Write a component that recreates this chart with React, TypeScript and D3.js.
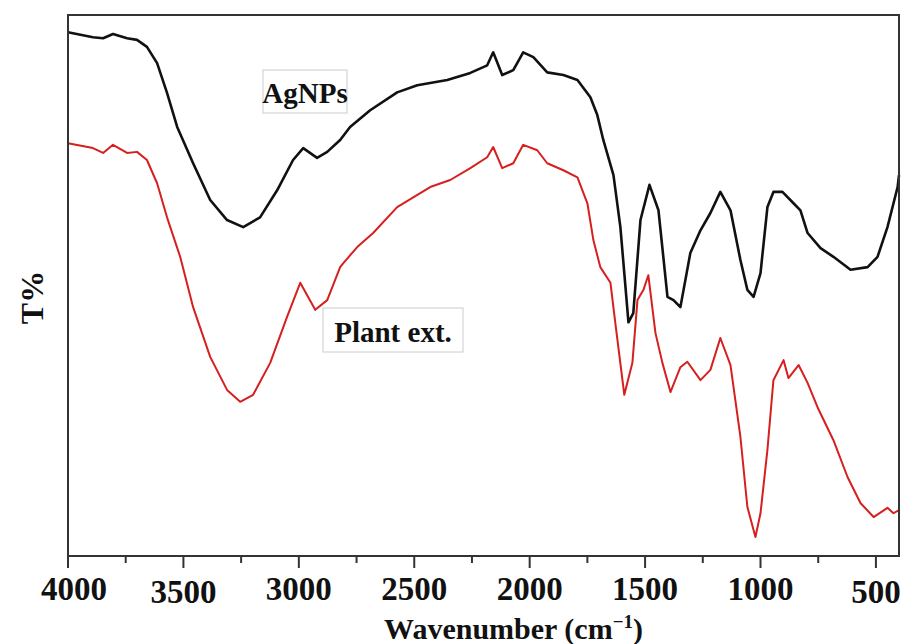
import { useEffect, useRef } from 'react'
import * as d3 from 'd3'

// FTIR spectra
const agWave = [4000, 3892, 3848, 3805, 3744, 3701, 3658, 3614, 3571, 3527, 3458, 3384, 3311, 3241, 3168, 3094, 3025, 2981, 2921, 2877, 2821, 2778, 2691, 2574, 2487, 2357, 2257, 2184, 2158, 2119, 2071, 2028, 1984, 1924, 1854, 1793, 1737, 1707, 1681, 1637, 1607, 1572, 1551, 1520, 1481, 1442, 1403, 1377, 1347, 1304, 1260, 1217, 1174, 1130, 1087, 1057, 1030, 1000, 970, 944, 905, 857, 827, 796, 740, 684, 610, 536, 493, 450, 406, 400]
const agT = [96.8, 95.9, 95.7, 96.5, 95.7, 95.4, 94.1, 91.1, 85.6, 79.3, 72.6, 65.8, 62.1, 60.8, 62.6, 67.6, 73.2, 75.4, 73.6, 74.7, 76.9, 79.3, 82.4, 85.7, 87.0, 88.0, 89.3, 90.7, 93.1, 88.9, 89.8, 93.1, 92.2, 89.4, 88.9, 88.0, 84.8, 81.5, 76.9, 70.4, 60.8, 43.2, 44.9, 62.1, 68.6, 63.9, 47.9, 47.3, 46.0, 56.0, 60.2, 63.4, 67.3, 63.9, 54.7, 49.2, 47.9, 52.3, 64.5, 67.3, 67.3, 65.2, 63.9, 59.7, 56.9, 55.3, 52.9, 53.4, 55.3, 60.8, 68.2, 70.4]

const plantWave = [4000, 3892, 3848, 3805, 3744, 3701, 3658, 3614, 3571, 3514, 3458, 3384, 3311, 3254, 3198, 3124, 3051, 2994, 2929, 2877, 2821, 2808, 2747, 2678, 2574, 2431, 2344, 2257, 2184, 2158, 2119, 2071, 2028, 1967, 1924, 1854, 1793, 1750, 1724, 1694, 1650, 1629, 1590, 1555, 1533, 1507, 1486, 1455, 1425, 1390, 1347, 1317, 1260, 1217, 1174, 1130, 1087, 1057, 1022, 1000, 970, 944, 900, 879, 835, 796, 753, 684, 623, 567, 510, 450, 424, 400]
const plantT = [76.3, 75.4, 74.5, 76.0, 74.5, 74.7, 73.2, 68.9, 62.6, 55.3, 46.0, 36.8, 30.7, 28.5, 29.8, 35.7, 44.2, 50.5, 45.5, 47.3, 53.4, 54.1, 57.1, 59.7, 64.5, 68.2, 69.5, 71.7, 73.7, 75.6, 71.7, 72.6, 76.0, 75.0, 72.6, 71.3, 70.0, 65.2, 58.4, 53.4, 50.5, 43.1, 29.8, 35.7, 47.3, 49.2, 51.9, 41.2, 35.7, 30.3, 34.9, 35.9, 32.5, 34.4, 40.3, 35.3, 22.0, 9.1, 3.5, 7.9, 19.6, 32.5, 36.2, 32.9, 35.3, 32.0, 27.5, 21.4, 14.6, 9.8, 7.2, 8.9, 7.9, 8.5]

const majorTicks = [4000, 3500, 3000, 2500, 2000, 1500, 1000, 500]
const minorTicks = [3750, 3250, 2750, 2250, 1750, 1250, 750]
const tickLabels = ['4000', '3500', '3000', '2500', '2000', '1500', '1000', '500']

const width = 904
const height = 644
const margin = { left: 68, right: 5, top: 15, bottom: 88 }
const font = '"Liberation Serif", "Times New Roman", serif'

export default function App() {
  const svgRef = useRef<SVGSVGElement>(null)

  useEffect(() => {
    const svg = d3.select(svgRef.current)
    svg.selectAll('*').remove()

    const x = d3.scaleLinear().domain([4000, 400]).range([margin.left, width - margin.right])
    const y = d3.scaleLinear().domain([0, 100]).range([height - margin.bottom, margin.top])
    const x0 = x.range()[0], x1 = x.range()[1]
    const y0 = y.range()[0], y1 = y.range()[1]

    svg.append('rect').attr('width', width).attr('height', height).attr('fill', '#fff')

    const line = d3.line<[number, number]>().x(d => x(d[0])).y(d => y(d[1]))

    svg.append('path')
      .datum(plantWave.map((w, i) => [w, plantT[i]] as [number, number]))
      .attr('d', line)
      .attr('fill', 'none')
      .attr('stroke', '#d61f1f')
      .attr('stroke-width', 2)
      .attr('stroke-linejoin', 'round')

    svg.append('path')
      .datum(agWave.map((w, i) => [w, agT[i]] as [number, number]))
      .attr('d', line)
      .attr('fill', 'none')
      .attr('stroke', '#111')
      .attr('stroke-width', 2.6)
      .attr('stroke-linejoin', 'round')

    // frame
    svg.append('rect')
      .attr('x', x0).attr('y', y1)
      .attr('width', x1 - x0).attr('height', y0 - y1)
      .attr('fill', 'none').attr('stroke', '#333').attr('stroke-width', 2)

    const axis = svg.append('g')
    axis.selectAll('line.major').data(majorTicks).join('line')
      .attr('x1', d => x(d)).attr('x2', d => x(d))
      .attr('y1', y0).attr('y2', y0 + 12)
      .attr('stroke', '#333').attr('stroke-width', 2)
    axis.selectAll('line.minor').data(minorTicks).join('line')
      .attr('x1', d => x(d)).attr('x2', d => x(d))
      .attr('y1', y0).attr('y2', y0 + 7)
      .attr('stroke', '#333').attr('stroke-width', 2)
    axis.selectAll('text').data(majorTicks).join('text')
      .attr('x', d => x(d) + (d === 4000 ? 6 : 0))
      .attr('y', d => y0 + (d === 3500 || d === 500 ? 47 : 44))
      .attr('text-anchor', 'middle')
      .attr('font-family', font).attr('font-weight', 'bold').attr('font-size', 33)
      .attr('fill', '#111')
      .text((d, i) => tickLabels[i])

    const title = svg.append('text')
      .attr('x', (x0 + x1) / 2 + 30).attr('y', height - 5)
      .attr('text-anchor', 'middle')
      .attr('font-family', font).attr('font-weight', 'bold').attr('font-size', 30)
      .attr('fill', '#111')
    title.append('tspan').text('Wavenumber (cm')
    title.append('tspan').attr('font-size', 19).attr('dy', -11).text('−1')
    title.append('tspan').attr('dy', 11).text(')')

    svg.append('text')
      .attr('transform', `translate(43, ${(y0 + y1) / 2 + 12}) rotate(-90)`)
      .attr('text-anchor', 'middle')
      .attr('font-family', font).attr('font-weight', 'bold').attr('font-size', 32)
      .attr('fill', '#111')
      .text('T%')

    const labels = [
      { text: 'AgNPs', x: 263, y: 70, w: 84, h: 43 },
      { text: 'Plant ext.', x: 323, y: 308, w: 140, h: 44 },
    ]
    labels.forEach(l => {
      svg.append('rect')
        .attr('x', l.x).attr('y', l.y).attr('width', l.w).attr('height', l.h)
        .attr('fill', '#fff').attr('stroke', '#ccc').attr('stroke-width', 1)
      svg.append('text')
        .attr('x', l.x + l.w / 2).attr('y', l.y + l.h - 10)
        .attr('text-anchor', 'middle')
        .attr('font-family', font).attr('font-weight', 'bold').attr('font-size', 29)
        .attr('fill', '#111')
        .text(l.text)
    })
  }, [])

  return (
    <svg
      ref={svgRef}
      width={width}
      height={height}
      viewBox={`0 0 ${width} ${height}`}
      style={{ position: 'absolute', left: 0, top: 0, display: 'block' }}
    />
  )
}
